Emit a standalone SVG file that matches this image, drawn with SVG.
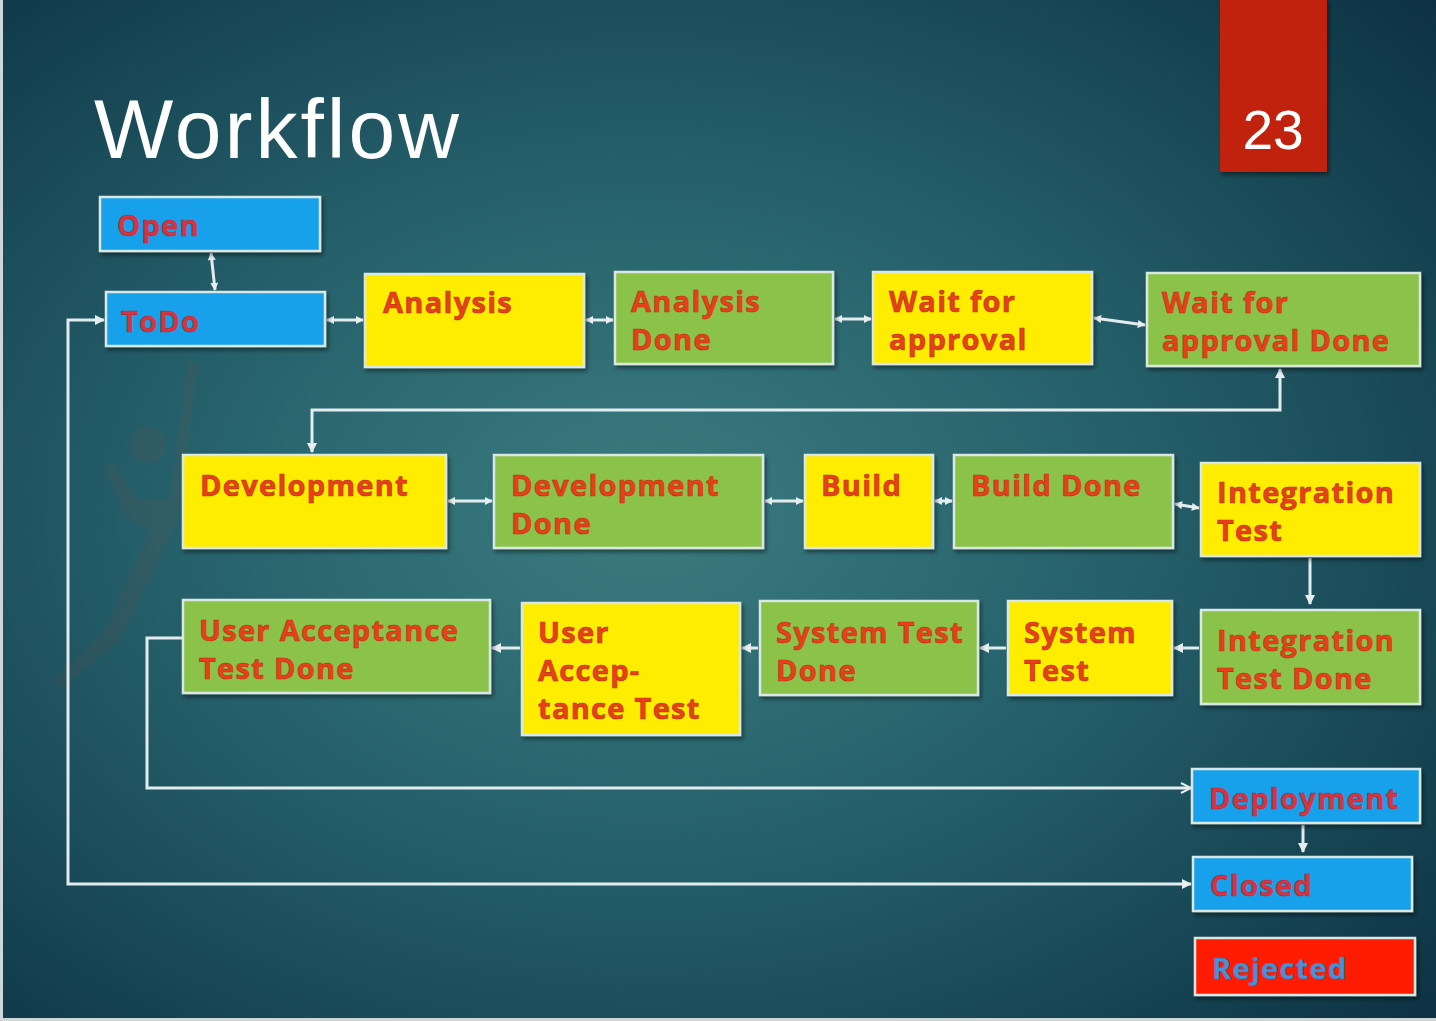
<svg xmlns="http://www.w3.org/2000/svg" width="1436" height="1021" viewBox="0 0 1436 1021">
  <defs>
    <radialGradient id="bg" cx="0.45" cy="0.5" r="0.75">
      <stop offset="0" stop-color="#3b7c80"/>
      <stop offset="0.45" stop-color="#25606a"/>
      <stop offset="1" stop-color="#0c3143"/>
    </radialGradient>
    <filter id="shadow" x="-10%" y="-10%" width="130%" height="140%">
      <feDropShadow dx="2" dy="3" stdDeviation="2" flood-color="#000" flood-opacity="0.45"/>
    </filter>
    <marker id="tip" viewBox="0 0 10 10" refX="9" refY="5" markerWidth="8" markerHeight="8" orient="auto-start-reverse" markerUnits="userSpaceOnUse">
      <path d="M0,0 L10,5 L0,10 Z" fill="#e6eef0"/>
    </marker>
    <marker id="tipBig" viewBox="0 0 10 10" refX="9" refY="5" markerWidth="10" markerHeight="10" orient="auto-start-reverse" markerUnits="userSpaceOnUse">
      <path d="M0,0 L10,5 L0,10 Z" fill="#e6eef0"/>
    </marker>
    <marker id="open" viewBox="0 0 12 12" refX="11" refY="6" markerWidth="12" markerHeight="12" orient="auto" markerUnits="userSpaceOnUse">
      <path d="M1,1 L11,6 L1,11" fill="none" stroke="#e6eef0" stroke-width="2"/>
    </marker>
  </defs>
  <style>
    .box { stroke: #d9e8e2; stroke-width: 2.5; filter: url(#shadow); }
    .blue { fill: #12a1ea; }
    .yellow { fill: #ffed00; }
    .green { fill: #8bc24a; }
    .red { fill: #ff1a00; }
    .lbl { font-family: "Open Sans", "Liberation Sans", sans-serif; font-weight: 700; font-size: 29px; letter-spacing: 1.3px; fill: #e8401a; stroke: #b8300e; stroke-width: 0.6; }
    .lblb { fill: #d8343e; stroke: #a82a40; }
    .lblr { fill: #4a92d8; stroke: #3070b0; }
    .wire { fill: none; stroke: #e2ecee; stroke-width: 3; }
    .dbl { marker-start: url(#tip); marker-end: url(#tip); }
    .one { marker-end: url(#tipBig); }
  </style>

  <!-- slide background -->
  <rect x="0" y="0" width="1436" height="1021" fill="url(#bg)"/>
  <rect x="0" y="0" width="3" height="1021" fill="#cfd6d8"/>
  <rect x="0" y="1018" width="1436" height="3" fill="#cfd6d8"/>

  <!-- faint figure in the background -->
  <g opacity="0.1" fill="#a04838">
    <circle cx="148" cy="445" r="18"/>
    <path d="M188 360 L198 362 L178 520 L120 640 L60 690 L52 680 L105 630 L150 530 L128 520 L105 470 L112 462 L138 500 L170 500 Z"/>
  </g>

  <!-- title and slide number -->
  <text x="94" y="158" font-family="Liberation Sans, Arial, sans-serif" font-size="84" letter-spacing="3" fill="#ffffff">Workflow</text>
  <g id="slide-number">
    <rect x="1220" y="-2" width="107" height="174" fill="#c0220f" filter="url(#shadow)"/>
    <text x="1273" y="149" text-anchor="middle" font-family="Liberation Sans, Arial, sans-serif" font-size="55" fill="#ffffff">23</text>
  </g>

  <!-- connectors -->
  <g id="connectors">
    <line class="wire dbl" x1="211" y1="253" x2="215" y2="290"/>
    <line class="wire dbl" x1="327" y1="320" x2="363" y2="320"/>
    <line class="wire dbl" x1="586" y1="320" x2="613" y2="320"/>
    <line class="wire dbl" x1="835" y1="319" x2="871" y2="319"/>
    <line class="wire dbl" x1="1094" y1="318" x2="1145" y2="325"/>
    <path class="wire" d="M312 452 L312 410 L1280 410 L1280 369" marker-start="url(#tipBig)" marker-end="url(#tipBig)"/>
    <line class="wire dbl" x1="448" y1="501" x2="492" y2="501"/>
    <line class="wire dbl" x1="765" y1="501" x2="803" y2="501"/>
    <line class="wire dbl" x1="935" y1="501" x2="952" y2="501"/>
    <line class="wire dbl" x1="1175" y1="504" x2="1199" y2="508"/>
    <line class="wire one" x1="1310" y1="558" x2="1310" y2="604"/>
    <line class="wire one" x1="1199" y1="648" x2="1174" y2="648"/>
    <line class="wire one" x1="1006" y1="648" x2="980" y2="648"/>
    <line class="wire one" x1="758" y1="648" x2="742" y2="648"/>
    <line class="wire one" x1="520" y1="648" x2="492" y2="648"/>
    <path class="wire" d="M182 638 L147 638 L147 788 L1191 788" marker-end="url(#open)"/>
    <line class="wire one" x1="1303" y1="825" x2="1303" y2="852"/>
    <path class="wire" d="M1191 884 L68 884 L68 320 L104 320" marker-start="url(#tipBig)" marker-end="url(#tipBig)"/>
  </g>

  <!-- nodes -->
  <g id="node-open">
    <rect class="box blue" x="100" y="197" width="220" height="54"/>
    <text class="lbl lblb" x="117" y="236">Open</text>
  </g>
  <g id="node-todo">
    <rect class="box blue" x="106" y="292" width="219" height="54"/>
    <text class="lbl lblb" x="121" y="332">ToDo</text>
  </g>
  <g id="node-analysis">
    <rect class="box yellow" x="365" y="274" width="219" height="93"/>
    <text class="lbl" x="383" y="313">Analysis</text>
  </g>
  <g id="node-analysis-done">
    <rect class="box green" x="615" y="272" width="218" height="92"/>
    <text class="lbl" x="631" y="312">Analysis</text>
    <text class="lbl" x="631" y="350">Done</text>
  </g>
  <g id="node-wait-approval">
    <rect class="box yellow" x="873" y="272" width="219" height="92"/>
    <text class="lbl" x="889" y="312">Wait for</text>
    <text class="lbl" x="889" y="350">approval</text>
  </g>
  <g id="node-wait-approval-done">
    <rect class="box green" x="1147" y="273" width="273" height="93"/>
    <text class="lbl" x="1162" y="313">Wait for</text>
    <text class="lbl" x="1162" y="351">approval Done</text>
  </g>
  <g id="node-development">
    <rect class="box yellow" x="183" y="455" width="263" height="93"/>
    <text class="lbl" x="200" y="496">Development</text>
  </g>
  <g id="node-development-done">
    <rect class="box green" x="494" y="455" width="269" height="93"/>
    <text class="lbl" x="511" y="496">Development</text>
    <text class="lbl" x="511" y="534">Done</text>
  </g>
  <g id="node-build">
    <rect class="box yellow" x="805" y="455" width="128" height="93"/>
    <text class="lbl" x="821" y="496">Build</text>
  </g>
  <g id="node-build-done">
    <rect class="box green" x="954" y="455" width="219" height="93"/>
    <text class="lbl" x="971" y="496">Build Done</text>
  </g>
  <g id="node-integration-test">
    <rect class="box yellow" x="1201" y="463" width="219" height="93"/>
    <text class="lbl" x="1217" y="503">Integration</text>
    <text class="lbl" x="1217" y="541">Test</text>
  </g>
  <g id="node-integration-test-done">
    <rect class="box green" x="1201" y="610" width="219" height="94"/>
    <text class="lbl" x="1217" y="651">Integration</text>
    <text class="lbl" x="1217" y="689">Test Done</text>
  </g>
  <g id="node-system-test">
    <rect class="box yellow" x="1008" y="601" width="164" height="94"/>
    <text class="lbl" x="1024" y="643">System</text>
    <text class="lbl" x="1024" y="681">Test</text>
  </g>
  <g id="node-system-test-done">
    <rect class="box green" x="760" y="601" width="218" height="94"/>
    <text class="lbl" x="776" y="643">System Test</text>
    <text class="lbl" x="776" y="681">Done</text>
  </g>
  <g id="node-uat">
    <rect class="box yellow" x="522" y="603" width="218" height="132"/>
    <text class="lbl" x="538" y="643">User</text>
    <text class="lbl" x="538" y="681">Accep-</text>
    <text class="lbl" x="538" y="719">tance Test</text>
  </g>
  <g id="node-uat-done">
    <rect class="box green" x="183" y="600" width="307" height="93"/>
    <text class="lbl" x="199" y="641">User Acceptance</text>
    <text class="lbl" x="199" y="679">Test Done</text>
  </g>
  <g id="node-deployment">
    <rect class="box blue" x="1192" y="769" width="228" height="54"/>
    <text class="lbl lblb" x="1209" y="809">Deployment</text>
  </g>
  <g id="node-closed">
    <rect class="box blue" x="1193" y="857" width="219" height="54"/>
    <text class="lbl lblb" x="1210" y="896">Closed</text>
  </g>
  <g id="node-rejected">
    <rect class="box red" x="1195" y="938" width="220" height="57"/>
    <text class="lbl lblr" x="1212" y="979">Rejected</text>
  </g>
</svg>
